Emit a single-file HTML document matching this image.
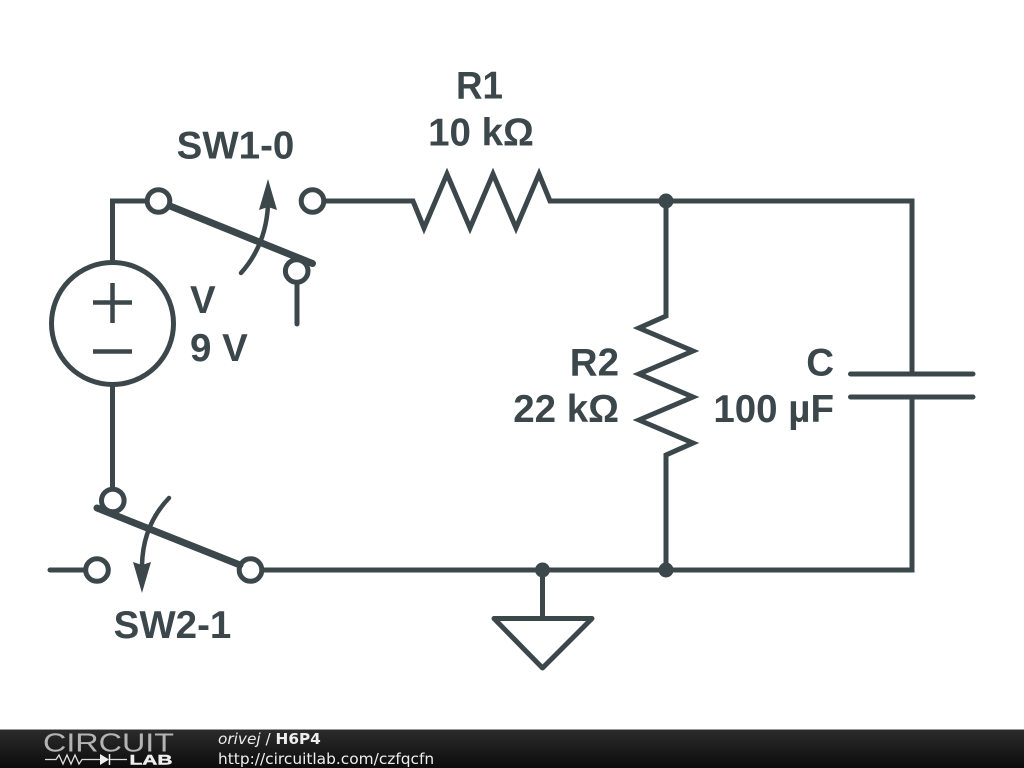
<!DOCTYPE html>
<html>
<head>
<meta charset="utf-8">
<style>
html,body{margin:0;padding:0;width:1024px;height:768px;background:#fff;overflow:hidden}
svg{display:block}
</style>
</head>
<body>
<svg width="1024" height="768" viewBox="0 0 1024 768" xmlns="http://www.w3.org/2000/svg">
<defs>
<linearGradient id="bar" x1="0" y1="0" x2="0" y2="1">
<stop offset="0" stop-color="#2c2c2c"/>
<stop offset="1" stop-color="#0c0c0c"/>
</linearGradient>
</defs>
<g fill="none" stroke="#3c474c" stroke-width="5" stroke-linejoin="miter" stroke-linecap="butt">
<!-- wires -->
<path d="M112.5 262V201H147"/>
<path d="M112.5 386V489"/>
<path d="M325 201H413L424 228L447 174L470 228L493 174L516 228L539 174L550 201H912V374"/>
<path d="M912 397V570H263"/>
<path d="M666 201V316L639 328L693 351L639 374L693 397L639 420L693 443L666 455V570"/>
<path d="M850.500 374H973M850.500 397H973" stroke-linecap="round"/>
<path d="M50 570H85" stroke-linecap="round"/>
<path d="M297 283V324" stroke-linecap="round"/>
<path d="M542.500 570V618"/>
<path d="M494 618.500H592L542.500 668Z" stroke-linejoin="round"/>
<!-- source -->
<circle cx="112.500" cy="323.500" r="61"/>
<path d="M93 302.500H132M112.500 283V323M93 351.500H132" stroke-width="4.500"/>
<!-- switch terminals -->
<circle cx="158.500" cy="201" r="11.300"/>
<circle cx="312.500" cy="201" r="11.300"/>
<circle cx="296.700" cy="271" r="11.300"/>
<circle cx="112.800" cy="500.500" r="11.300"/>
<circle cx="97" cy="570" r="11.300"/>
<circle cx="250.500" cy="570" r="11.300"/>
<!-- blades -->
<path d="M170 206L312.500 263.500" stroke-width="7" stroke-linecap="round"/>
<path d="M97 508L240 565" stroke-width="7" stroke-linecap="round"/>
<!-- actuator arcs -->
<path d="M241 273Q266 245 268 205" stroke-width="4.500" stroke-linecap="round"/>
<path d="M169 498Q143 525 142 565" stroke-width="4.500" stroke-linecap="round"/>
</g>
<g fill="#3c474c">
<path d="M268 179L277 210L268 207L259 210Z"/>
<path d="M142 593L133 562L142 565L151 562Z"/>
<circle cx="666" cy="201" r="7.500"/>
<circle cx="666" cy="570" r="7.500"/>
<circle cx="542.500" cy="570" r="7.500"/>
</g>
<g font-family="'Liberation Sans',sans-serif" font-weight="700" font-size="38.500" fill="#3c474c">
<text x="456" y="98.500" textLength="47" lengthAdjust="spacingAndGlyphs">R1</text>
<text x="481" y="145.500" text-anchor="middle">10 kΩ</text>
<text x="235.500" y="158.500" text-anchor="middle">SW1-0</text>
<text x="190" y="313">V</text>
<text x="190" y="361">9 V</text>
<text x="619" y="375.500" text-anchor="end">R2</text>
<text x="619" y="422" text-anchor="end">22 kΩ</text>
<text x="834" y="375.500" text-anchor="end">C</text>
<text x="834" y="422" text-anchor="end">100 µF</text>
<text x="172.500" y="638" text-anchor="middle">SW2-1</text>
</g>
<!-- footer -->
<rect x="0" y="729" width="1024" height="39" fill="url(#bar)"/>
<rect x="0" y="729" width="1024" height="1" fill="#999"/>
<text x="43" y="751.500" font-family="'Liberation Sans',sans-serif" font-size="25.500" fill="#b4b4b4" textLength="131" lengthAdjust="spacingAndGlyphs">CIRCUIT</text>
<path d="M45 759.500H56L59 755L63 764L67 755L71 764L75 755L79 764L82 759.500H100M109 759.500H127" fill="none" stroke="#ddd" stroke-width="1.300"/>
<path d="M100 754V765L109 759.500Z" fill="#eee"/>
<path d="M109.500 754V765" stroke="#eee" stroke-width="1.500"/>
<text x="129.500" y="764.500" font-family="'Liberation Sans',sans-serif" font-weight="700" font-size="13.500" fill="#eee" stroke="#eee" stroke-width="0.400" textLength="43" lengthAdjust="spacingAndGlyphs">LAB</text>
<text x="218" y="744" font-family="'DejaVu Sans',sans-serif" font-size="15.300" fill="#eee"><tspan font-style="italic">orivej</tspan> / <tspan font-weight="700">H6P4</tspan></text>
<text x="218" y="764" font-family="'DejaVu Sans',sans-serif" font-size="15.400" fill="#eee">http://circuitlab.com/czfqcfn</text>
</svg>
</body>
</html>
